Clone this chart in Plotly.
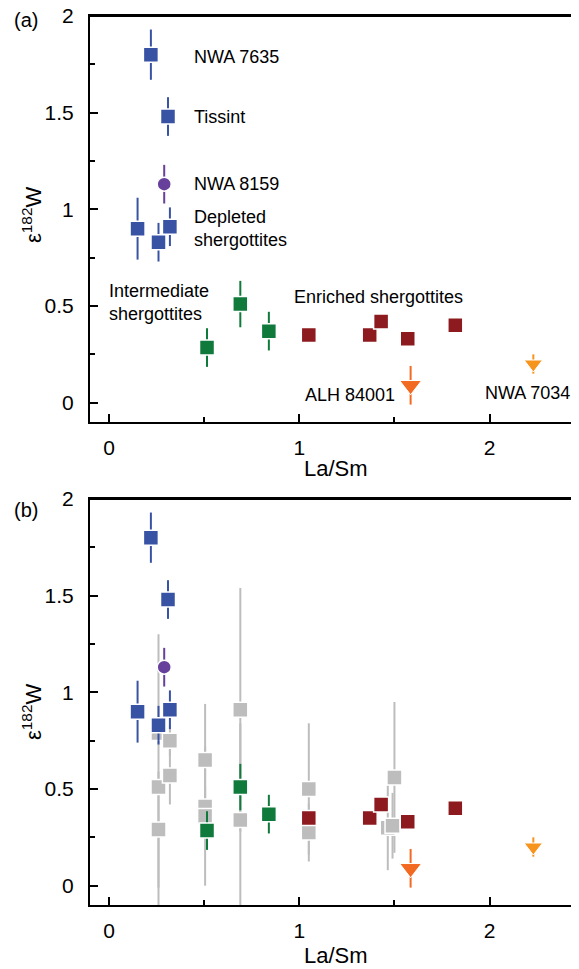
import plotly.graph_objects as go

# ---------------- data ----------------
dep_x = [0.22, 0.31, 0.15, 0.26, 0.32]
dep_y = [1.80, 1.48, 0.90, 0.83, 0.91]
dep_e = [0.13, 0.10, 0.16, 0.10, 0.10]

nwa8159_x = [0.29]
nwa8159_y = [1.13]
nwa8159_e = [0.10]

int_x = [0.515, 0.69, 0.84]
int_y = [0.285, 0.51, 0.37]
int_e = [0.10, 0.12, 0.10]

enr_x = [1.05, 1.37, 1.43, 1.57, 1.82]
enr_y = [0.35, 0.35, 0.42, 0.33, 0.40]

alh_x = [1.585]
alh_y = [0.09]
alh_e = [0.10]

nwa7034_x = [2.23]
nwa7034_y = [0.20]
nwa7034_e = [0.05]

gray_x = [0.26, 0.26, 0.26, 0.32, 0.32, 0.505, 0.505, 0.505, 0.69, 0.69,
          1.05, 1.05, 1.50, 1.465, 1.49]
gray_y = [0.79, 0.51, 0.29, 0.75, 0.57, 0.65, 0.41, 0.36, 0.91, 0.34,
          0.50, 0.275, 0.56, 0.30, 0.31]
gray_e = [0.05, 0.79, 0.30, 0.08, 0.15, 0.29, 0.10, 0.36, 0.63, 0.50,
          0.34, 0.15, 0.39, 0.22, 0.17]

x_ticks = [0, 1, 2]
y_ticks = [0, 0.5, 1, 1.5, 2]
y_ticktext = ["0", "0.5", "1", "1.5", "2"]

# ---------------- styles ----------------
BLUE = "#3953a4"
PURPLE = "#66409a"
GREEN = "#107a3c"
RED = "#8c1a1e"
ORANGE_RED = "#f26a21"
ORANGE = "#f7941d"
GRAY = "#bdbdbd"
FONT = "Liberation Sans, Arial, Helvetica, sans-serif"

# page body has an 8px default margin; compensate
OFF = 8
W = 579 - OFF
H = 969 - OFF


def px(xp):
    return (xp - OFF) / W


def py(yp):
    return 1 - (yp - OFF) / H


fig = go.Figure()


def add_series(x, y, err, color, symbol, size, xa, ya, lw=1.5):
    ey = None
    if err is not None:
        ey = dict(type="data", array=err, width=0, thickness=2, color=color)
    fig.add_trace(go.Scatter(
        x=x, y=y, mode="markers", error_y=ey,
        marker=dict(color=color, symbol=symbol, size=size,
                    line=dict(color="white", width=lw)),
        xaxis=xa, yaxis=ya, showlegend=False, hoverinfo="x+y"))


for xa, ya, panel in [("x", "y", "a"), ("x2", "y2", "b")]:
    if panel == "b":
        add_series(gray_x, gray_y, gray_e, GRAY, "square", 15, xa, ya)
    add_series(dep_x, dep_y, dep_e, BLUE, "square", 15, xa, ya)
    add_series(nwa8159_x, nwa8159_y, nwa8159_e, PURPLE, "circle", 14, xa, ya)
    add_series(int_x, int_y, int_e, GREEN, "square", 15, xa, ya)
    add_series(enr_x, enr_y, None, RED, "square", 15, xa, ya)
    add_series(alh_x, alh_y, alh_e, ORANGE_RED, "triangle-down", 19, xa, ya, lw=1)
    add_series(nwa7034_x, nwa7034_y, nwa7034_e, ORANGE, "triangle-down", 16, xa, ya, lw=1)

xdom = [px(90), 1.0]
ydom_a = [py(422), py(16)]
ydom_b = [py(905), py(499)]

tickfont = dict(family=FONT, size=21, color="black")


def xaxis_cfg(anchor):
    return dict(
        domain=xdom, range=[-0.1, 2.47], anchor=anchor, automargin=False,
        showline=True, linecolor="black", linewidth=2, mirror=True,
        ticks="inside", ticklen=8, tickwidth=2, tickcolor="black",
        tickvals=x_ticks, ticklabelstandoff=6, ticklabeloverflow="allow",
        minor=dict(tickvals=[0.5, 1.5], ticks="inside", ticklen=5,
                   tickwidth=2, tickcolor="black"),
        showgrid=False, zeroline=False, tickfont=tickfont,
    )


def yaxis_cfg(anchor, dom):
    return dict(
        domain=dom, range=[-0.1, 2.0], anchor=anchor, automargin=False,
        showline=True, linecolor="black", linewidth=2,
        ticks="inside", ticklen=8, tickwidth=2, tickcolor="black",
        tickvals=y_ticks, ticktext=y_ticktext, ticklabelstandoff=10,
        ticklabeloverflow="allow",
        minor=dict(tickvals=[0.25, 0.75, 1.25, 1.75], ticks="inside",
                   ticklen=5, tickwidth=2, tickcolor="black"),
        showgrid=False, zeroline=False, tickfont=tickfont,
    )


lab = dict(family=FONT, size=18, color="black")
annotations = [
    dict(text="NWA 7635", x=0.437, y=1.79, xref="x", yref="y"),
    dict(text="Tissint", x=0.437, y=1.48, xref="x", yref="y"),
    dict(text="NWA 8159", x=0.437, y=1.13, xref="x", yref="y"),
    dict(text="Depleted<br>shergottites", x=0.437, y=0.90, xref="x", yref="y"),
    dict(text="Intermediate<br>shergottites", x=-0.01, y=0.52, xref="x", yref="y"),
    dict(text="Enriched shergottites", x=0.963, y=0.545, xref="x", yref="y"),
    dict(text="ALH 84001", x=1.516, y=0.04, xref="x", yref="y", xanchor="right"),
    dict(text="NWA 7034", x=1.968, y=0.05, xref="x", yref="y"),
]
for a in annotations:
    a.setdefault("xanchor", "left")
    a.update(showarrow=False, font=lab, align="left", yanchor="middle")

big = dict(family=FONT, size=22, color="black")
panel_font = dict(family=FONT, size=20, color="black")


def ann(text, xp, yp, font, angle=0):
    return dict(text=text, x=px(xp), y=py(yp), xref="paper", yref="paper",
                showarrow=False, font=font, textangle=angle,
                xanchor="center", yanchor="middle")


annotations += [
    ann("(a)", 26, 20, panel_font),
    ann("(b)", 26, 510, panel_font),
    ann("ε<sup>182</sup>W", 32, 215, big, -90),
    ann("ε<sup>182</sup>W", 32, 712, big, -90),
    ann("La/Sm", 336, 468, big),
    ann("La/Sm", 336, 955, big),
]

# explicit top frame lines of both panels
shapes = [
    dict(type="line", xref="paper", yref="paper", x0=xdom[0], x1=1.0,
         y0=ydom_a[1], y1=ydom_a[1], line=dict(color="black", width=2)),
    dict(type="line", xref="paper", yref="paper", x0=xdom[0], x1=1.0,
         y0=ydom_b[1], y1=ydom_b[1], line=dict(color="black", width=2)),
]

fig.update_layout(
    width=W, height=H,
    margin=dict(l=0, r=0, t=0, b=0),
    paper_bgcolor="white", plot_bgcolor="white",
    xaxis=xaxis_cfg("y"), yaxis=yaxis_cfg("x", ydom_a),
    xaxis2=xaxis_cfg("y2"), yaxis2=yaxis_cfg("x2", ydom_b),
    annotations=annotations, shapes=shapes,
    font=dict(family=FONT),
)

fig.write_html("out.html")
